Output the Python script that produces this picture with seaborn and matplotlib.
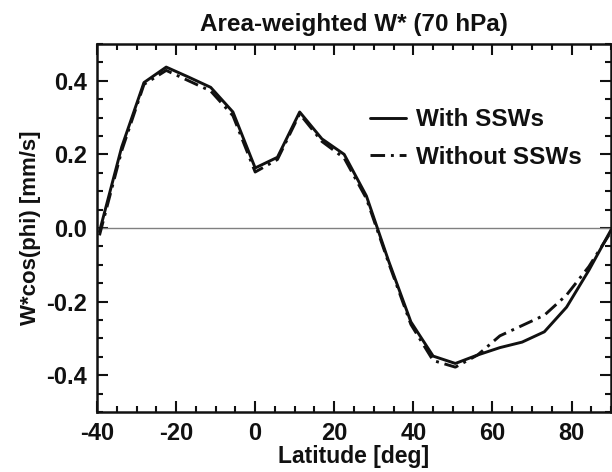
import matplotlib
matplotlib.use("Agg")
import matplotlib.pyplot as plt
from matplotlib.ticker import MultipleLocator, FormatStrFormatter
import seaborn as sns
import pandas as pd

# latitude grid and area-weighted residual vertical velocity
lat = [-39.375, -33.75, -28.125, -22.5, -16.875, -11.25, -5.625, 0.0, 5.625, 11.25,
       16.875, 22.5, 28.125, 33.75, 39.375, 45.0, 50.625, 56.25, 61.875, 67.5,
       73.125, 78.75, 84.375, 90.0]
with_ssw = [-0.01, 0.22, 0.395, 0.437, 0.41, 0.382, 0.315, 0.163, 0.192, 0.315,
            0.242, 0.2, 0.087, -0.09, -0.255, -0.348, -0.368, -0.345, -0.325, -0.31,
            -0.282, -0.215, -0.115, -0.005]
without_ssw = [-0.02, 0.21, 0.39, 0.428, 0.40, 0.372, 0.305, 0.152, 0.186, 0.31,
               0.235, 0.19, 0.08, -0.095, -0.262, -0.36, -0.378, -0.345, -0.293, -0.265,
               -0.237, -0.182, -0.105, -0.01]

Datos = pd.DataFrame({
    "Latitude": lat * 2,
    "W": with_ssw + without_ssw,
    "Caso": ["With SSWs"] * len(lat) + ["Without SSWs"] * len(lat),
})

sns.set_style("ticks")
plt.rcParams["font.family"] = ["Liberation Sans", "DejaVu Sans"]
plt.rcParams["font.weight"] = "bold"
plt.rcParams["axes.unicode_minus"] = False
plt.rcParams["text.color"] = "#111111"
plt.rcParams["axes.labelcolor"] = "#111111"
plt.rcParams["xtick.color"] = "#111111"
plt.rcParams["ytick.color"] = "#111111"

fig = plt.figure(figsize=(6.12, 4.72), dpi=100)
ax = fig.add_axes([0.1585, 0.127, 0.84, 0.78])

ax.axhline(0, color="#808080", lw=1.0, zorder=1)
sns.lineplot(data=Datos, x="Latitude", y="W", style="Caso",
             dashes={"With SSWs": "", "Without SSWs": (5, 2, 1, 2)},
             color="#111111", lw=2.1, ax=ax, legend=True)

ax.set_xlim(-40, 90)
ax.set_ylim(-0.5, 0.5)
ax.xaxis.set_major_locator(MultipleLocator(20))
ax.xaxis.set_minor_locator(MultipleLocator(5))
ax.yaxis.set_major_locator(MultipleLocator(0.2))
ax.yaxis.set_minor_locator(MultipleLocator(0.05))
ax.yaxis.set_major_formatter(FormatStrFormatter("%.1f"))
ax.tick_params(which="both", direction="in", top=True, right=True, width=1.5,
               labelsize=17, pad=7)
ax.tick_params(which="major", length=8)
ax.tick_params(which="minor", length=4)
for s in ax.spines.values():
    s.set_linewidth(1.8)
    s.set_color("#111111")

ax.set_xlabel("Latitude [deg]", fontsize=16.5, fontweight="bold", labelpad=0)
ax.set_ylabel("W*cos(phi) [mm/s]", fontsize=16, fontweight="bold", labelpad=4)
ax.set_title("Area-weighted W* (70 hPa)", fontsize=17.5, fontweight="bold", pad=9)

leg = ax.legend(loc="upper right", bbox_to_anchor=(0.985, 0.885), frameon=False,
                fontsize=17.5, handlelength=1.5, handletextpad=0.4,
                labelspacing=0.6, title=None)
for t in leg.get_texts():
    t.set_fontweight("bold")

plt.savefig("out.png", dpi=100)
